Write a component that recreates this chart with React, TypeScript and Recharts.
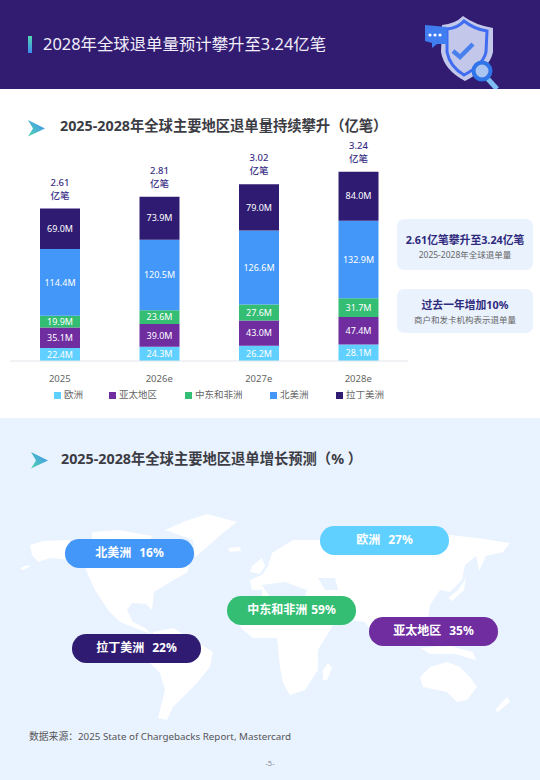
import { BarChart, Bar, XAxis, YAxis, Legend, LabelList } from 'recharts';

const FONT = '"Noto Sans", "Noto Sans CJK SC", sans-serif';

// Chart data, millions of chargebacks
const YEARS = ['2025', '2026e', '2027e', '2028e'];
const EUROPE = [22.4, 24.3, 26.2, 28.1];
const APAC = [35.1, 39.0, 43.0, 47.4];
const MEA = [19.9, 23.6, 27.6, 31.7];
const NORTH_AMERICA = [114.4, 120.5, 126.6, 132.9];
const LATAM = [69.0, 73.9, 79.0, 84.0];
const TOTALS = ['2.61', '2.81', '3.02', '3.24'];

// Growth forecast, percent
const GROWTH_REGIONS = ['北美洲', '欧洲', '中东和非洲', '亚太地区', '拉丁美洲'];
const GROWTH_VALUES = [16, 27, 59, 35, 22];

const chartData = YEARS.map((year, i) => ({
  year,
  europe: EUROPE[i],
  apac: APAC[i],
  mea: MEA[i],
  northAmerica: NORTH_AMERICA[i],
  latam: LATAM[i],
}));

const SERIES = [
  { key: 'europe', name: '欧洲', color: '#5fd0ff' },
  { key: 'apac', name: '亚太地区', color: '#6f2da0' },
  { key: 'mea', name: '中东和非洲', color: '#34be73' },
  { key: 'northAmerica', name: '北美洲', color: '#4297f8' },
  { key: 'latam', name: '拉丁美洲', color: '#2f1c72' },
];

const LEGEND_LEFT = [54, 109, 185, 270, 336];

const PILLS = [
  { left: 65, top: 539, color: '#4297f8', gap: 8 },
  { left: 320, top: 526, color: '#5fd0ff', gap: 8 },
  { left: 227, top: 596, color: '#34be73', gap: 4 },
  { left: 369, top: 617, color: '#6f2da0', gap: 8 },
  { left: 72, top: 634, color: '#2f1c72', gap: 8 },
];

// Rough continent outlines behind the pills (page coordinates)
const LAND = [
  'M30 545 L43 541 L70 540 L70 560 L50 558 L38 562 L32 555 Z',
  'M20 568 L28 565 L30 567 L22 570 Z',
  'M82 558 L190 558 L188 572 L170 582 L154 592 L152 610 L146 604 L132 603 L127 610 L133 622 L145 628 L152 634 L140 630 L120 622 L108 610 L95 590 L88 575 Z',
  'M92 532 L118 530 L152 536 L150 541 L92 541 Z',
  'M165 530 L183 522 L207 514 L237 522 L223 533 L207 547 L195 557 L193 540 Z',
  'M228 548 L240 547 L241 551 L230 552 Z',
  'M153 632 L173 628 L188 637 L213 652 L210 667 L197 683 L183 697 L173 707 L167 720 L158 718 L165 690 L160 673 L150 663 Z',
  'M252 566 L262 558 L265 566 L260 574 L250 572 Z',
  'M262 590 L252 590 L250 580 L262 575 L268 566 L272 553 L293 540 L320 540 L450 535 L477 538 L510 543 L503 552 L486 556 L479 571 L476 556 L465 565 L462 580 L450 592 L440 590 L430 605 L428 618 L440 650 L430 640 L400 630 L378 640 L365 622 L350 620 L340 600 L300 598 L262 598 Z',
  'M235 620 L345 620 L333 625 L318 650 L318 670 L305 690 L290 695 L283 683 L280 667 L277 638 L253 638 L243 630 Z',
  'M328 663 L332 668 L327 680 L323 680 L323 670 Z',
  'M420 648 L450 646 L473 652 L476 660 L455 654 L430 654 Z',
  'M420 677 L430 667 L447 662 L460 667 L470 677 L477 687 L467 700 L457 702 L447 692 L423 687 Z',
  'M507 697 L510 702 L498 712 L495 710 Z',
  'M466 578 L464 590 L452 601 L448 598 L458 590 Z',
];
const SEAS = [
  'M262 585 L285 582 L307 590 L305 597 L270 597 Z',
  'M318 578 L335 578 L338 590 L325 590 Z',
];

function SectionArrow({ x, y, id }: { x: number; y: number; id: string }) {
  return (
    <svg style={{ position: 'absolute', left: x, top: y }} width={17} height={17}>
      <defs>
        <linearGradient id={id} x1="0" y1="1" x2="1" y2="0">
          <stop offset="0%" stopColor="#52d6b0" />
          <stop offset="100%" stopColor="#3f8df0" />
        </linearGradient>
      </defs>
      <path d="M0 0 L17 8.5 L0 16.5 L5 8.5 Z" fill={`url(#${id})`} />
    </svg>
  );
}

function ShieldIcon() {
  return (
    <svg style={{ position: 'absolute', left: 410, top: 5 }} width={100} height={84} viewBox="410 5 100 84">
      <path d="M442 25 Q455 24 463 16 Q475 25 493 28 L493 52 Q490 68 465 81 Q444 70 441 52 Z" fill="#c3c8ea" />
      <path d="M447 29 Q458 28 464 21 Q474 29 487 31 L486 52 Q483 65 464 75 Q450 67 447 52 Z" fill="none" stroke="#3f6cf0" strokeWidth={3} />
      <path d="M425 25 L447 27 L447 44 L437 44 L432 48 L432 43 L425 41 Z" fill="#3f7df0" />
      <circle cx={430} cy={35} r={1.6} fill="#fff" />
      <circle cx={435} cy={35} r={1.6} fill="#fff" />
      <circle cx={440} cy={35} r={1.6} fill="#fff" />
      <path d="M453 51 L460 57 L473 44" fill="none" stroke="#4a80ee" strokeWidth={4.5} />
      <path d="M487 78 L497 89" stroke="#7dbdf2" strokeWidth={5} />
      <circle cx={482} cy={71} r={8.5} fill="#a9c4f0" stroke="#2f74e8" strokeWidth={4} />
    </svg>
  );
}

function InfoCard({ top, height, title, note }: { top: number; height: number; title: string; note: string }) {
  return (
    <div
      style={{
        position: 'absolute',
        left: 397,
        top,
        width: 136,
        height,
        borderRadius: 7,
        background: '#eaf2fe',
        textAlign: 'center',
      }}
    >
      <div style={{ fontSize: 10.8, fontWeight: 700, color: '#2f2a7c', marginTop: height > 46 ? 13 : 8, lineHeight: '16px' }}>
        {title}
      </div>
      <div style={{ fontSize: 8.5, color: '#666', lineHeight: '13px' }}>{note}</div>
    </div>
  );
}

function TotalLabel({ x, y, width, index }: any) {
  const cx = x + width / 2;
  return (
    <text x={cx} textAnchor="middle" fill="#3a2f85" fontSize={9.5} fontWeight={500} fontFamily={FONT}>
      <tspan x={cx} y={y - 23}>{TOTALS[index]}</tspan>
      <tspan x={cx} y={y - 10}>亿笔</tspan>
    </text>
  );
}

function ChartLegend({ payload }: any) {
  return (
    <div style={{ position: 'relative', width: 540, height: 19 }}>
      {(payload || []).map((entry: any, i: number) => (
        <div
          key={entry.value}
          style={{
            position: 'absolute',
            left: LEGEND_LEFT[i],
            top: -3,
            display: 'flex',
            alignItems: 'center',
            fontSize: 9.5,
            color: '#666',
            lineHeight: '14px',
            whiteSpace: 'nowrap',
          }}
        >
          <span style={{ width: 7, height: 7, background: entry.color, marginRight: 3 }} />
          {entry.value}
        </div>
      ))}
    </div>
  );
}

export default function App() {
  return (
    <div
      style={{
        position: 'absolute',
        left: 0,
        top: 0,
        width: 540,
        height: 780,
        overflow: 'hidden',
        background: '#fff',
        fontFamily: FONT,
      }}
    >
      {/* header */}
      <div style={{ position: 'absolute', left: 0, top: 0, width: 540, height: 89, background: '#311c72' }} />
      <div
        style={{
          position: 'absolute',
          left: 28,
          top: 36,
          width: 4,
          height: 17,
          background: 'linear-gradient(#52d6b0, #3f8df0)',
        }}
      />
      <div style={{ position: 'absolute', left: 43, top: 32, fontSize: 16.4, lineHeight: '24px', color: '#f1eefa', whiteSpace: 'nowrap' }}>
        2028年全球退单量预计攀升至3.24亿笔
      </div>
      <ShieldIcon />

      {/* stacked bars */}
      <SectionArrow x={28} y={120} id="arrowTop" />
      <div style={{ position: 'absolute', left: 60, top: 116, fontSize: 14.3, lineHeight: '20px', fontWeight: 700, color: '#3c3c44', whiteSpace: 'nowrap' }}>
        2025-2028年全球主要地区退单量持续攀升（亿笔）
      </div>
      <div style={{ position: 'absolute', left: 0, top: 130 }}>
        <BarChart
          width={540}
          height={280}
          data={chartData}
          margin={{ top: 30, right: 132, bottom: 0, left: 10 }}
          barSize={40}
        >
          <XAxis
            dataKey="year"
            height={30}
            tickLine={false}
            axisLine={{ stroke: '#e2e5ea' }}
            tick={{ fill: '#666', fontSize: 9.5, fontFamily: FONT }}
            tickMargin={8}
          />
          <YAxis hide domain={[0, 344]} />
          <Legend verticalAlign="bottom" itemSorter={null} content={<ChartLegend />} wrapperStyle={{ left: 0, width: 540 }} />
          {SERIES.map((s) => (
            <Bar key={s.key} dataKey={s.key} name={s.name} stackId="total" fill={s.color} isAnimationActive={false}>
              <LabelList
                dataKey={s.key}
                position="center"
                formatter={(v: number) => `${v.toFixed(1)}M`}
                fill="#fff"
                fontSize={9}
                fontFamily={FONT}
              />
              {s.key === 'latam' && <LabelList dataKey={s.key} content={<TotalLabel />} />}
            </Bar>
          ))}
        </BarChart>
      </div>

      <InfoCard top={219} height={51} title="2.61亿笔攀升至3.24亿笔" note="2025-2028年全球退单量" />
      <InfoCard top={289} height={44} title="过去一年增加10%" note="商户和发卡机构表示退单量" />

      {/* growth map */}
      <div style={{ position: 'absolute', left: 0, top: 418, width: 540, height: 362, background: '#e9f2ff' }} />
      <SectionArrow x={31} y={452} id="arrowBottom" />
      <div style={{ position: 'absolute', left: 61, top: 449, fontSize: 14.3, lineHeight: '20px', fontWeight: 700, color: '#3c3c44', whiteSpace: 'nowrap' }}>
        2025-2028年全球主要地区退单增长预测（% ）
      </div>
      <svg style={{ position: 'absolute', left: 0, top: 0 }} width={540} height={780}>
        {LAND.map((d) => (
          <path key={d} d={d} fill="#fff" />
        ))}
        {SEAS.map((d) => (
          <path key={d} d={d} fill="#e9f2ff" />
        ))}
      </svg>
      {GROWTH_REGIONS.map((region, i) => (
        <div
          key={region}
          style={{
            position: 'absolute',
            left: PILLS[i].left,
            top: PILLS[i].top,
            width: 129,
            height: 28.5,
            borderRadius: 14.25,
            background: PILLS[i].color,
            color: '#fff',
            fontSize: 12,
            fontWeight: 700,
            lineHeight: '27px',
            textAlign: 'center',
            whiteSpace: 'nowrap',
          }}
        >
          {region}
          <span style={{ marginLeft: PILLS[i].gap }}>{GROWTH_VALUES[i]}%</span>
        </div>
      ))}
      <div style={{ position: 'absolute', left: 29, top: 729, fontSize: 9.8, lineHeight: '15px', color: '#555', whiteSpace: 'nowrap' }}>
        数据来源：2025 State of Chargebacks Report, Mastercard
      </div>
      <div style={{ position: 'absolute', left: 0, width: 540, top: 757, fontSize: 7.5, lineHeight: '12px', color: '#888', textAlign: 'center' }}>
        -5-
      </div>
    </div>
  );
}
